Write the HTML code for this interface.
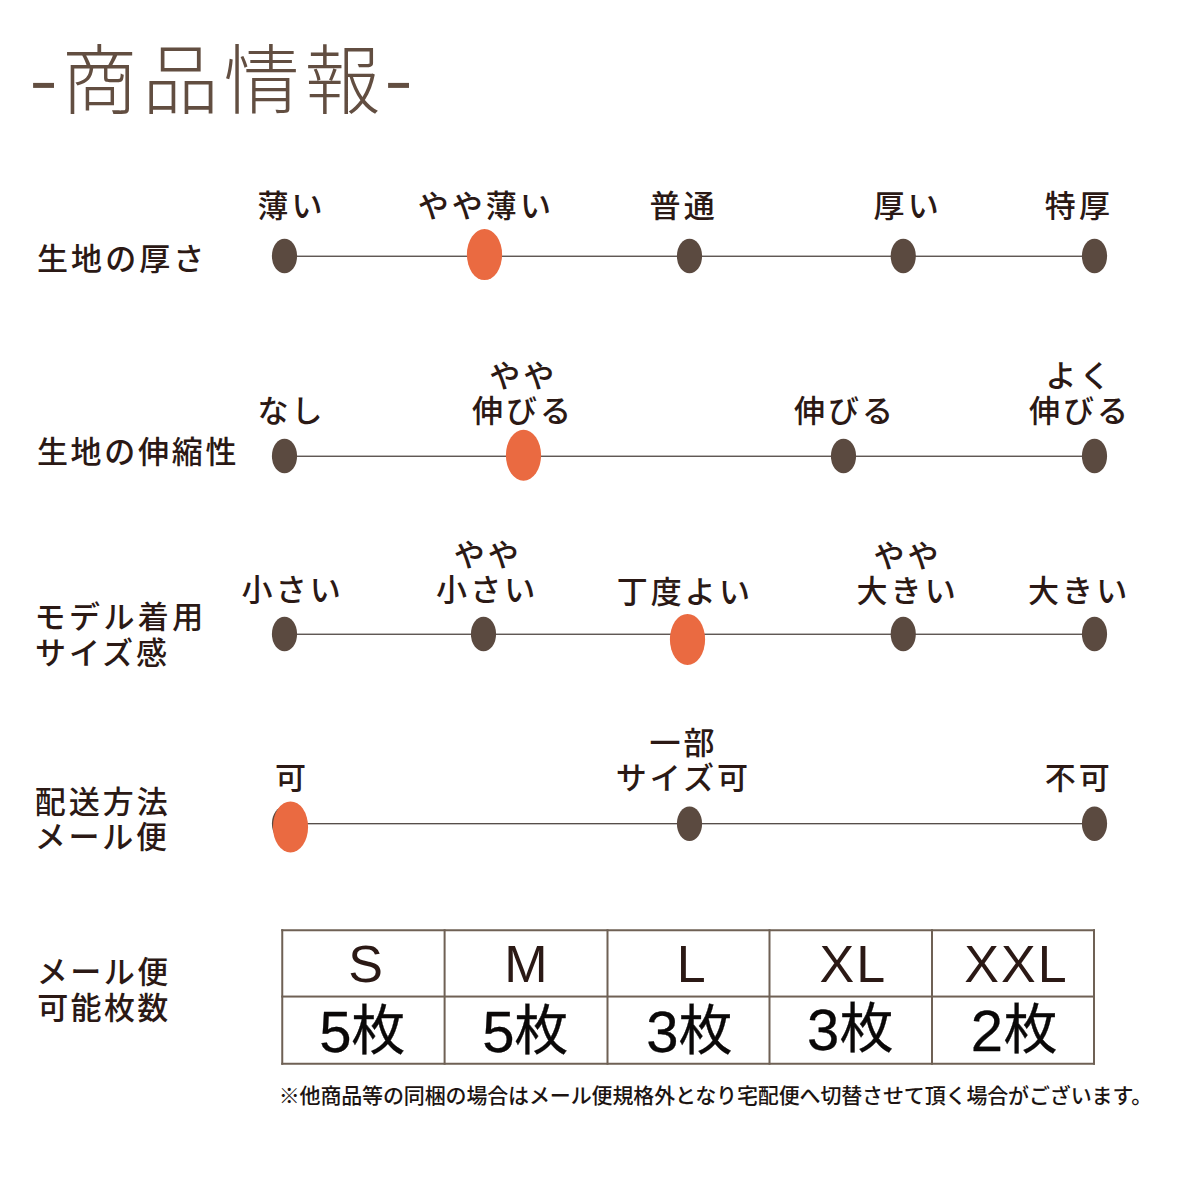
<!DOCTYPE html>
<html lang="ja">
<head>
<meta charset="utf-8">
<title>商品情報</title>
<style>
html,body{margin:0;padding:0;background:#fff;}
body{width:1200px;height:1200px;overflow:hidden;font-family:"Liberation Sans",sans-serif;}
#page{position:relative;width:1200px;height:1200px;background:#fff;overflow:hidden;}
#page svg{position:absolute;left:0;top:0;display:block;}
#page svg text{font-family:"Liberation Sans","Noto Sans CJK JP",sans-serif;}
.sr{position:absolute;left:0;top:0;width:1px;height:1px;margin:-1px;padding:0;overflow:hidden;clip:rect(0 0 0 0);clip-path:inset(50%);white-space:nowrap;border:0;font-size:1px;color:transparent;}
</style>
</head>
<body>
<div id="page">
<svg width="1200" height="1200" viewBox="0 0 1200 1200" aria-hidden="true">
<text x="61.43" y="108.40" font-size="76" font-weight="300" letter-spacing="5" fill="#624e41">商品情報</text>
<rect x="33.10" y="82.9" width="20.9" height="5" fill="#624e41"/>
<rect x="388.10" y="82.9" width="20.9" height="5" fill="#624e41"/>
<rect x="284.50" y="255.65" width="810.00" height="1.15" fill="#3a302c"/>
<ellipse cx="284.50" cy="256.00" rx="12.60" ry="17.20" fill="#5b4a40"/>
<ellipse cx="689.50" cy="256.00" rx="12.60" ry="17.20" fill="#5b4a40"/>
<ellipse cx="903.25" cy="256.00" rx="12.60" ry="17.20" fill="#5b4a40"/>
<ellipse cx="1094.50" cy="256.00" rx="12.60" ry="17.20" fill="#5b4a40"/>
<ellipse cx="484.50" cy="254.60" rx="17.60" ry="25.50" fill="#ea6a41"/>
<text x="36.92" y="270.10" font-size="31" font-weight="500" letter-spacing="3.11" fill="#2b1915">生地の厚さ</text>
<text x="257.48" y="216.80" font-size="31" font-weight="500" letter-spacing="3.1" fill="#2b1915">薄い</text>
<text x="417.66" y="216.80" font-size="31" font-weight="500" letter-spacing="3.1" fill="#2b1915">やや薄い</text>
<text x="649.56" y="216.80" font-size="31" font-weight="500" letter-spacing="3.1" fill="#2b1915">普通</text>
<text x="873.60" y="216.80" font-size="31" font-weight="500" letter-spacing="3.1" fill="#2b1915">厚い</text>
<text x="1044.85" y="216.80" font-size="31" font-weight="500" letter-spacing="3.1" fill="#2b1915">特厚</text>
<rect x="284.50" y="455.65" width="810.00" height="1.15" fill="#3a302c"/>
<ellipse cx="284.50" cy="456.00" rx="12.60" ry="17.20" fill="#5b4a40"/>
<ellipse cx="843.50" cy="456.00" rx="12.60" ry="17.20" fill="#5b4a40"/>
<ellipse cx="1094.50" cy="456.00" rx="12.60" ry="17.20" fill="#5b4a40"/>
<ellipse cx="523.50" cy="455.25" rx="17.60" ry="25.50" fill="#ea6a41"/>
<text x="36.92" y="462.80" font-size="31" font-weight="500" letter-spacing="2.7" fill="#2b1915">生地の伸縮性</text>
<text x="257.40" y="422.30" font-size="31" font-weight="500" letter-spacing="3.1" fill="#2b1915">なし</text>
<text x="489.13" y="387.00" font-size="31" font-weight="500" letter-spacing="3.1" fill="#2b1915">やや</text>
<text x="471.90" y="422.00" font-size="31" font-weight="500" letter-spacing="3.1" fill="#2b1915">伸びる</text>
<text x="793.93" y="422.00" font-size="31" font-weight="500" letter-spacing="3.1" fill="#2b1915">伸びる</text>
<text x="1045.51" y="386.70" font-size="31" font-weight="500" letter-spacing="3.1" fill="#2b1915">よく</text>
<text x="1028.93" y="422.00" font-size="31" font-weight="500" letter-spacing="3.1" fill="#2b1915">伸びる</text>
<rect x="284.50" y="633.65" width="810.00" height="1.15" fill="#3a302c"/>
<ellipse cx="284.50" cy="634.00" rx="12.60" ry="17.20" fill="#5b4a40"/>
<ellipse cx="483.50" cy="634.00" rx="12.60" ry="17.20" fill="#5b4a40"/>
<ellipse cx="903.25" cy="634.00" rx="12.60" ry="17.20" fill="#5b4a40"/>
<ellipse cx="1094.50" cy="634.00" rx="12.60" ry="17.20" fill="#5b4a40"/>
<ellipse cx="687.50" cy="639.40" rx="17.60" ry="25.50" fill="#ea6a41"/>
<text x="34.56" y="628.40" font-size="31" font-weight="500" letter-spacing="3.44" fill="#2b1915">モデル着用</text>
<text x="35.05" y="663.90" font-size="31" font-weight="500" letter-spacing="2.98" fill="#2b1915">サイズ感</text>
<text x="241.55" y="601.00" font-size="31" font-weight="500" letter-spacing="3.1" fill="#2b1915">小さい</text>
<text x="453.73" y="565.80" font-size="31" font-weight="500" letter-spacing="3.1" fill="#2b1915">やや</text>
<text x="436.05" y="601.00" font-size="31" font-weight="500" letter-spacing="3.1" fill="#2b1915">小さい</text>
<text x="616.68" y="602.60" font-size="31" font-weight="500" letter-spacing="3.1" fill="#2b1915">丁度よい</text>
<text x="873.51" y="567.00" font-size="31" font-weight="500" letter-spacing="3.1" fill="#2b1915">やや</text>
<text x="856.49" y="602.40" font-size="31" font-weight="500" letter-spacing="3.1" fill="#2b1915">大きい</text>
<text x="1027.99" y="602.40" font-size="31" font-weight="500" letter-spacing="3.1" fill="#2b1915">大きい</text>
<rect x="284.50" y="823.15" width="810.00" height="1.15" fill="#3a302c"/>
<ellipse cx="284.50" cy="823.75" rx="12.60" ry="17.20" fill="#5b4a40"/>
<ellipse cx="689.50" cy="823.75" rx="12.60" ry="17.20" fill="#5b4a40"/>
<ellipse cx="1094.50" cy="823.75" rx="12.60" ry="17.20" fill="#5b4a40"/>
<ellipse cx="290.50" cy="826.90" rx="17.60" ry="25.50" fill="#ea6a41"/>
<text x="34.67" y="813.10" font-size="31" font-weight="500" letter-spacing="3.05" fill="#2b1915">配送方法</text>
<text x="34.68" y="848.40" font-size="31" font-weight="500" letter-spacing="2.76" fill="#2b1915">メール便</text>
<text x="275.08" y="789.30" font-size="31" font-weight="500" fill="#2b1915">可</text>
<text x="649.44" y="754.40" font-size="31" font-weight="500" letter-spacing="3.1" fill="#2b1915">一部</text>
<text x="615.63" y="789.40" font-size="31" font-weight="500" letter-spacing="3.1" fill="#2b1915">サイズ可</text>
<text x="1044.73" y="789.30" font-size="31" font-weight="500" letter-spacing="3.1" fill="#2b1915">不可</text>
<text x="36.68" y="983.40" font-size="31" font-weight="500" letter-spacing="2.51" fill="#2b1915">メール便</text>
<text x="37.14" y="1018.50" font-size="31" font-weight="500" letter-spacing="2.38" fill="#2b1915">可能枚数</text>
<rect x="281.25" y="929.25" width="813.75" height="2.00" fill="#6f6155"/>
<rect x="281.25" y="995.55" width="813.75" height="2.00" fill="#6f6155"/>
<rect x="281.25" y="1062.75" width="813.75" height="2.00" fill="#6f6155"/>
<rect x="281.25" y="929.25" width="2.00" height="135.50" fill="#6f6155"/>
<rect x="443.60" y="929.25" width="2.00" height="135.50" fill="#6f6155"/>
<rect x="606.50" y="929.25" width="2.00" height="135.50" fill="#6f6155"/>
<rect x="768.50" y="929.25" width="2.00" height="135.50" fill="#6f6155"/>
<rect x="931.00" y="929.25" width="2.00" height="135.50" fill="#6f6155"/>
<rect x="1093.00" y="929.25" width="2.00" height="135.50" fill="#6f6155"/>
<text x="365.6" y="981.90" font-size="52" text-anchor="middle" fill="#2b1915">S</text>
<text x="526" y="981.90" font-size="52" text-anchor="middle" fill="#2b1915">M</text>
<text x="691.1" y="981.90" font-size="52" text-anchor="middle" fill="#2b1915">L</text>
<text x="853.4" y="981.90" font-size="52" text-anchor="middle" letter-spacing="2" fill="#2b1915">XL</text>
<text x="1016.5" y="981.90" font-size="52" text-anchor="middle" letter-spacing="2" fill="#2b1915">XXL</text>
<text fill="#0a0808" stroke="#0a0808" stroke-width="0.3" stroke-linejoin="round"><tspan x="319.21" y="1051.70" font-size="58">5</tspan><tspan x="351.21" y="1050.45" font-size="54">枚</tspan></text>
<text fill="#0a0808" stroke="#0a0808" stroke-width="0.3" stroke-linejoin="round"><tspan x="482.28" y="1051.70" font-size="58">5</tspan><tspan x="514.36" y="1050.45" font-size="54">枚</tspan></text>
<text fill="#0a0808" stroke="#0a0808" stroke-width="0.3" stroke-linejoin="round"><tspan x="646.14" y="1051.60" font-size="58">3</tspan><tspan x="678.46" y="1050.45" font-size="54">枚</tspan></text>
<text fill="#0a0808" stroke="#0a0808" stroke-width="0.3" stroke-linejoin="round"><tspan x="806.96" y="1049.60" font-size="58">3</tspan><tspan x="839.58" y="1048.35" font-size="54">枚</tspan></text>
<text fill="#0a0808" stroke="#0a0808" stroke-width="0.3" stroke-linejoin="round"><tspan x="970.85" y="1050.70" font-size="58">2</tspan><tspan x="1003.46" y="1049.45" font-size="54">枚</tspan></text>
<text x="278.66" y="1103.00" font-size="21" font-weight="500" letter-spacing="-0.14" fill="#1c1412">※他商品等の同梱の場合はメール便規格外となり宅配便へ切替させて頂く場合がございます。</text>
</svg>
<div class="sr">
<h1>-商品情報-</h1>
<section><h2>生地の厚さ</h2><ul><li>薄い</li><li><strong>やや薄い</strong></li><li>普通</li><li>厚い</li><li>特厚</li></ul></section>
<section><h2>生地の伸縮性</h2><ul><li>なし</li><li><strong>やや伸びる</strong></li><li>伸びる</li><li>よく伸びる</li></ul></section>
<section><h2>モデル着用サイズ感</h2><ul><li>小さい</li><li>やや小さい</li><li><strong>丁度よい</strong></li><li>やや大きい</li><li>大きい</li></ul></section>
<section><h2>配送方法 メール便</h2><ul><li><strong>可</strong></li><li>一部サイズ可</li><li>不可</li></ul></section>
<section><h2>メール便可能枚数</h2>
<table><tr><th>S</th><th>M</th><th>L</th><th>XL</th><th>XXL</th></tr><tr><td>5枚</td><td>5枚</td><td>3枚</td><td>3枚</td><td>2枚</td></tr></table>
<p>※他商品等の同梱の場合はメール便規格外となり宅配便へ切替させて頂く場合がございます。</p></section>
</div>
</div>
</body>
</html>
